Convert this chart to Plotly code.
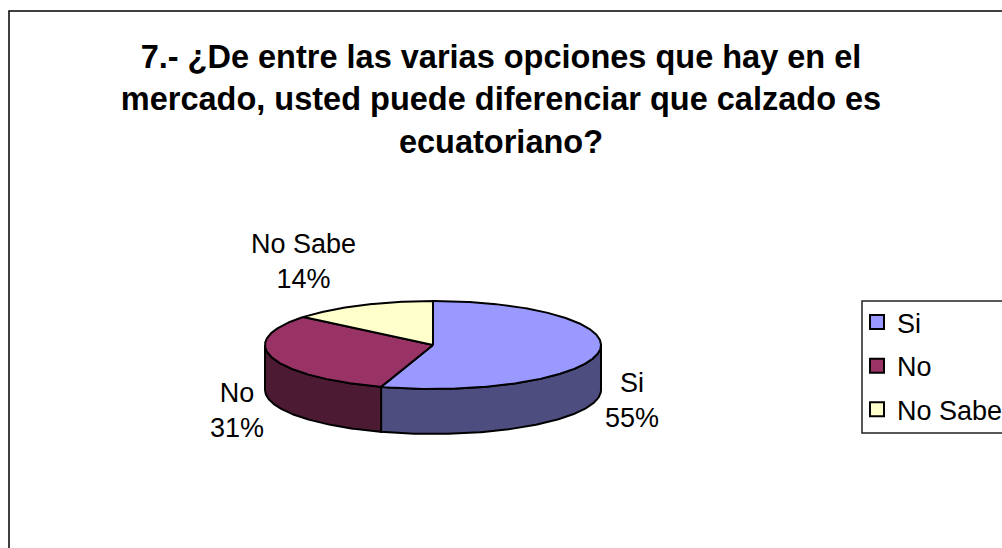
import numpy as np
import plotly.graph_objects as go

# Survey answers, in percent
categories = ["Si", "No", "No Sabe"]
shares = [55, 31, 14]
top_colors = ["#9999FF", "#993366", "#FFFFCC"]
side_colors = ["#4D4D80", "#4D1A33", "#80806A"]
title_lines = [
    "7.- ¿De entre las varias opciones que hay en el",
    "mercado, usted puede diferenciar que calzado es",
    "ecuatoriano?",
]

# Pie geometry on a pixel-sized canvas
CX, CY, RX, RY, DEPTH = 433, 345, 168, 44, 45
FONT = "Liberation Sans, Arial, sans-serif"
LABEL_POS = {"Si": (632, 400), "No": (237, 410), "No Sabe": (303, 261)}


def rim(a0, a1, dy=0.0):
    """Points along the ellipse, angles clockwise from twelve o'clock."""
    t = np.linspace(a0, a1, max(int(abs(a1 - a0) * 2), 2))
    r = np.radians(t)
    return CX + RX * np.sin(r), CY - RY * np.cos(r) + dy


fig = go.Figure()
edges = 360 * np.cumsum([0] + shares) / sum(shares)
spans = list(zip(edges[:-1], edges[1:]))

# Outer wall: only the part of each slice facing the viewer (90..270 degrees)
for (a0, a1), side in zip(spans, side_colors):
    lo, hi = max(a0, 90), min(a1, 270)
    if lo >= hi:
        continue
    xt, yt = rim(lo, hi)
    xb, yb = rim(lo, hi, DEPTH)
    fig.add_trace(go.Scatter(
        x=np.r_[xt, xb[::-1], xt[0]], y=np.r_[yt, yb[::-1], yt[0]],
        mode="lines", fill="toself", fillcolor=side,
        line=dict(color="black", width=2), hoverinfo="skip", showlegend=False,
    ))

# Top face
for (a0, a1), top in zip(spans, top_colors):
    xs, ys = rim(a0, a1)
    fig.add_trace(go.Scatter(
        x=np.r_[CX, xs, CX], y=np.r_[CY, ys, CY],
        mode="lines", fill="toself", fillcolor=top,
        line=dict(color="black", width=2), hoverinfo="skip", showlegend=False,
    ))

# Legend entries
for name, top in zip(categories, top_colors):
    fig.add_trace(go.Scatter(
        x=[None], y=[None], mode="markers", name=name, legendgroup=name,
        marker=dict(symbol="square", size=14, color=top,
                    line=dict(color="black", width=2)),
    ))

# Slice labels
for name, val in zip(categories, shares):
    px, py = LABEL_POS[name]
    fig.add_annotation(x=px, y=py, text=f"{name}<br>{val}%", showarrow=False,
                       xanchor="center", yanchor="middle", align="center",
                       font=dict(family=FONT, size=27, color="black"))

# Chart frame and legend box both run off the edge of the page
fig.add_shape(type="rect", x0=9, y0=11, x1=1100, y1=700,
              line=dict(color="black", width=1.5), layer="below")
fig.add_shape(type="rect", x0=862, y0=301, x1=1100, y1=433,
              line=dict(color="#222222", width=1.5), layer="below")

fig.update_layout(
    width=1002, height=548, margin=dict(l=0, r=0, t=0, b=0, autoexpand=False),
    paper_bgcolor="white", plot_bgcolor="white",
    xaxis=dict(range=[0, 1002], visible=False, fixedrange=True),
    yaxis=dict(range=[548, 0], visible=False, fixedrange=True),
    title=dict(text="<br>".join(title_lines), x=0.5, xanchor="center",
               y=1 - 68 / 548, yanchor="top",
               font=dict(family=FONT, size=32.5, color="black", weight="bold")),
    legend=dict(x=857 / 1002, xanchor="left", y=1 - 298 / 548, yanchor="top",
                borderwidth=0, bgcolor="rgba(0,0,0,0)",
                font=dict(family=FONT, size=27, color="black"),
                itemwidth=30, tracegroupgap=5.5, traceorder="grouped"),
)

fig.write_html("out.html")
